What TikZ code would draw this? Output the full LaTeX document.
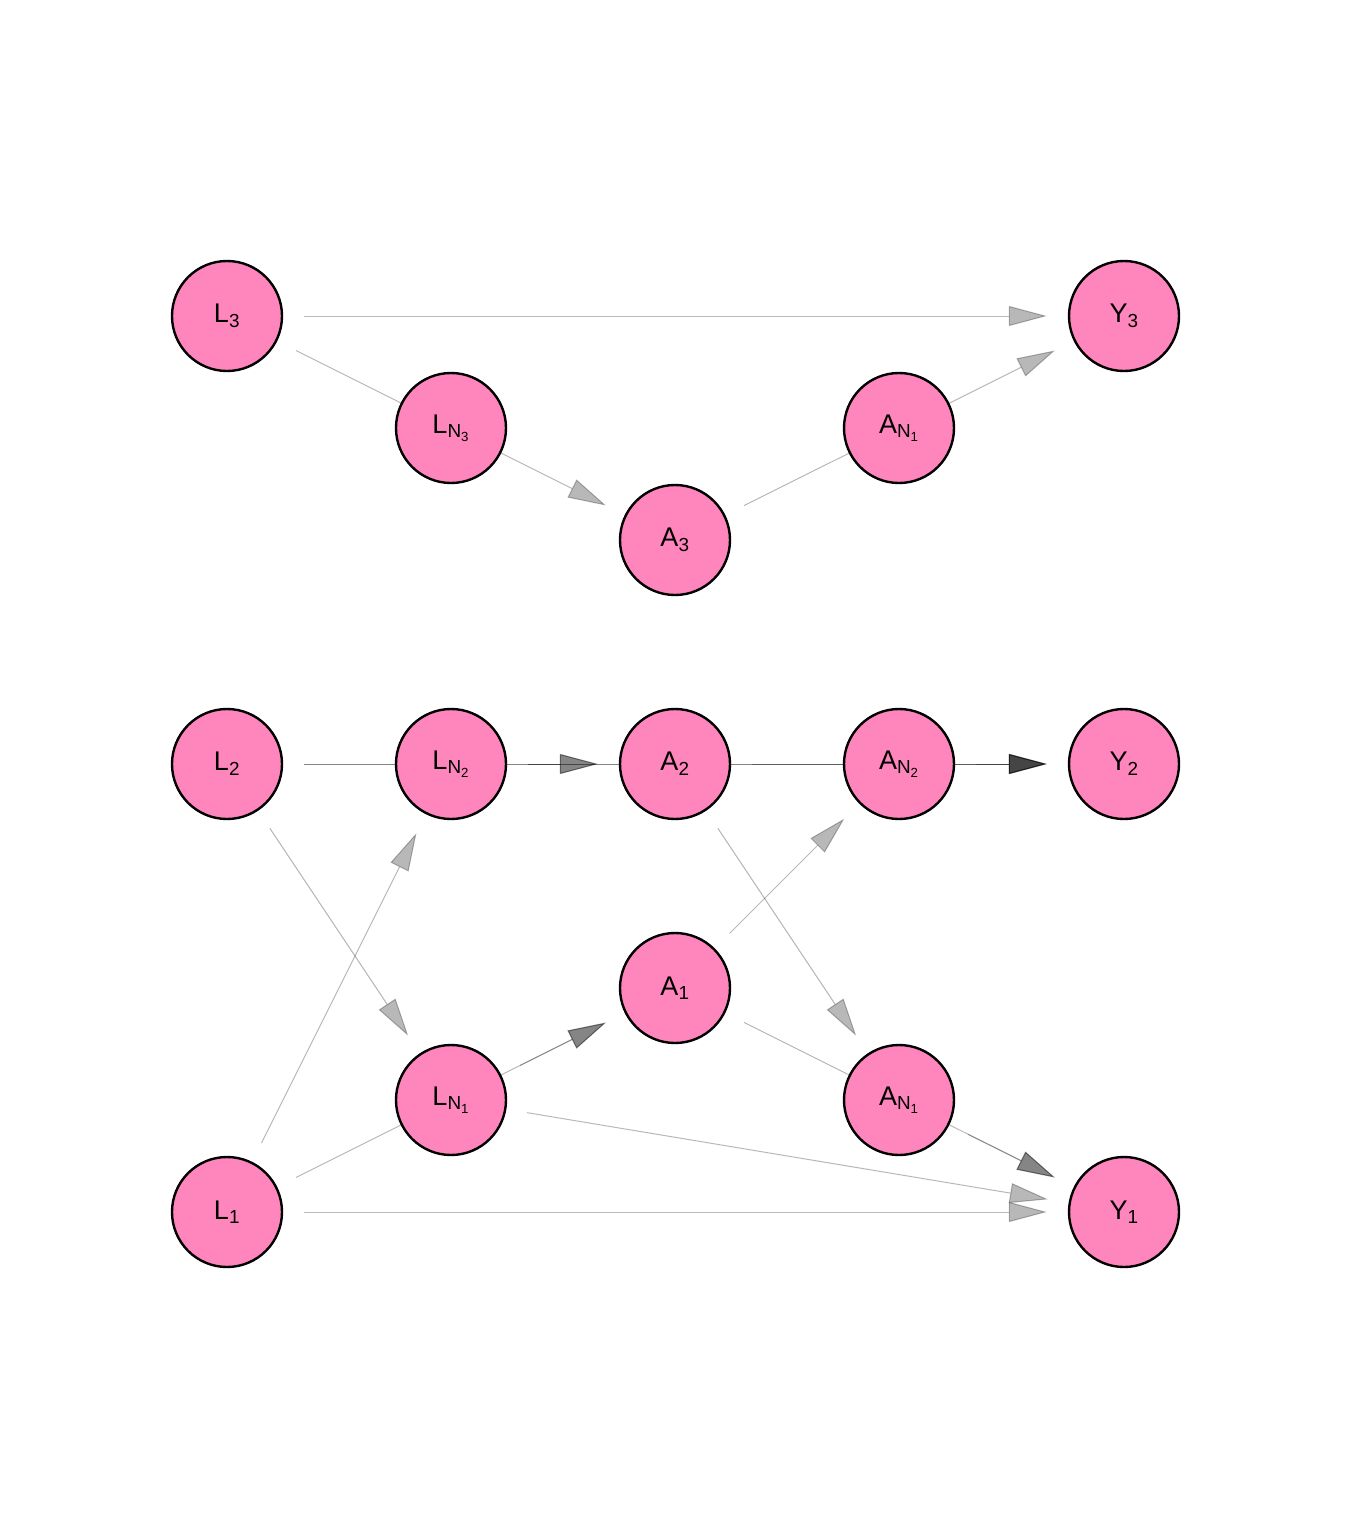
\documentclass[tikz,border=0pt]{standalone}
\usepackage{fontspec}
\setmainfont{Liberation Sans}
\usetikzlibrary{arrows.meta,backgrounds}

\definecolor{nodepink}{RGB}{255,134,188}

\tikzset{
	var/.style={circle, draw=black, line width=2.4pt, fill=nodepink,
		minimum size=110pt, inner sep=0pt,
		font=\fontsize{27}{30}\selectfont},
	edge/.style={draw=black, line width=1pt, opacity=0.28,
		shorten <=21pt, shorten >=21pt,
		-{Triangle[length=38pt, width=20pt, fill=black]}}
}

\begin{document}
\begin{tikzpicture}[x=1pt, y=-1pt]
			% Page frame
			\useasboundingbox (0,0) rectangle (1344,1536);
			
			% Time 3
			\node[var] (L3)  at (227,316)  {L\textsubscript{3}};
			\node[var] (LN3) at (451,428)  {L\textsubscript{N\textsubscript{3}}};
			\node[var] (A3)  at (675,540)  {A\textsubscript{3}};
			\node[var] (AN1t) at (899,428) {A\textsubscript{N\textsubscript{1}}};
			\node[var] (Y3)  at (1124,316) {Y\textsubscript{3}};
			
			% Time 2
			\node[var] (L2)  at (227,764)  {L\textsubscript{2}};
			\node[var] (LN2) at (451,764)  {L\textsubscript{N\textsubscript{2}}};
			\node[var] (A2)  at (675,764)  {A\textsubscript{2}};
			\node[var] (AN2) at (899,764)  {A\textsubscript{N\textsubscript{2}}};
			\node[var] (Y2)  at (1124,764) {Y\textsubscript{2}};
			
			% Time 1
			\node[var] (L1)  at (227,1212)  {L\textsubscript{1}};
			\node[var] (LN1) at (451,1100)  {L\textsubscript{N\textsubscript{1}}};
			\node[var] (A1)  at (675,988)   {A\textsubscript{1}};
			\node[var] (AN1b) at (899,1100) {A\textsubscript{N\textsubscript{1}}};
			\node[var] (Y1)  at (1124,1212) {Y\textsubscript{1}};
			
			\begin{scope}[on background layer]
				% Edges of unit 3
				\draw[edge] (L3) -- (Y3);
				\draw[edge] (L3) -- (A3);
				\draw[edge] (A3) -- (Y3);
				
				% Edges of unit 2
				\draw[edge] (L2) -- (A2);
				\draw[edge] (LN2) -- (A2);
				\draw[edge] (L2) -- (Y2);
				\draw[edge] (LN2) -- (Y2);
				\draw[edge] (A2) -- (Y2);
				\draw[edge] (AN2) -- (Y2);
				
				% Cross edges
				\draw[edge] (L2) -- (LN1);
				\draw[edge] (L1) -- (LN2);
				\draw[edge] (A2) -- (AN1b);
				\draw[edge] (A1) -- (AN2);
				
				% Edges of unit 1
				\draw[edge] (L1) -- (A1);
				\draw[edge] (LN1) -- (A1);
				\draw[edge] (A1) -- (Y1);
				\draw[edge] (AN1b) -- (Y1);
				\draw[edge] (LN1) -- (Y1);
				\draw[edge] (L1) -- (Y1);
			\end{scope}
		\end{tikzpicture}
\end{document}
